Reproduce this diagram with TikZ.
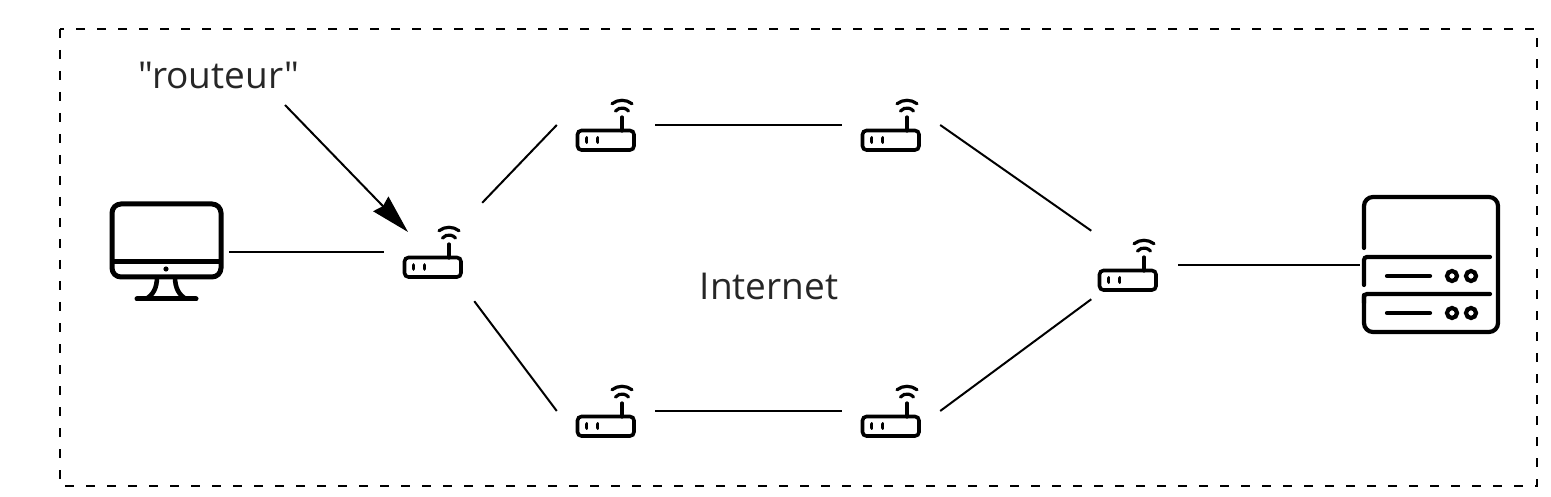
\documentclass[tikz,border=0pt]{standalone}
\usepackage{fontspec}
\setmainfont{Open Sans}[Ligatures=TeXOff]
\usetikzlibrary{arrows.meta}
\tikzset{
  routerbox/.style={rectangle, minimum size=98pt, inner sep=0pt},
  link/.style={line width=2pt},
  pointer/.style={line width=2pt, -{Stealth[length=39pt, width=21pt, inset=3pt]}},
  caption/.style={inner sep=0pt, font=\fontsize{37}{37}\selectfont, text=black!85},
  routericon/.pic={
    \draw[line width=3.6pt, rounded corners=4pt] (-28.5,5.5) rectangle (28,25);
    \draw[line width=3.2pt, line cap=round] (16,-8) -- (16,6);
    \draw[line width=3.8pt, line cap=round] (-19.5,13) -- (-19.5,17);
    \draw[line width=3.8pt, line cap=round] (-8.5,13) -- (-8.5,17);
    \draw[line width=3.2pt, line cap=round] (16,-8.5) ++(220:8.5) arc (220:320:8.5);
    \draw[line width=3.2pt, line cap=round] (16,-8.5) ++(232:16.2) arc (232:308:16.2);
  },
  monitoricon/.pic={
    \draw[line width=5pt, rounded corners=9pt] (-54,-48) rectangle (55,25);
    \draw[line width=5pt] (-54,10) -- (55,10);
    \fill (0,17) circle (2.6pt);
    \draw[line width=5pt, line cap=round] (-29,47) -- (30,47);
    \draw[line width=4.6pt] (-9,25) .. controls (-9,36) and (-13,43) .. (-20,47);
    \draw[line width=4.6pt] (9,25) .. controls (9,36) and (13,43) .. (20,47);
  },
  servericon/.pic={
    \draw[line width=4.2pt, line cap=round, rounded corners=9pt] (-67,-17) -- (-67,-68) -- (67,-68) -- (67,67) -- (-67,67) -- (-67,30);
    \draw[line width=4.2pt, line cap=round, rounded corners=3pt] (-67,20) -- (-67,-8) -- (59,-8);
    \draw[line width=4.2pt, line cap=round, rounded corners=3pt] (-67,38) -- (-67,29) -- (59,29);
    \draw[line width=4.2pt, line cap=round] (-44,11) -- (-1,11);
    \draw[line width=4.2pt, line cap=round] (-44,48) -- (-1,48);
    \foreach \py in {11,48} {
      \draw[line width=4.2pt] (21,\py) circle (5pt);
      \draw[line width=4.2pt] (40,\py) circle (5pt);
    }
  }
}
\begin{document}
\begin{tikzpicture}[x=1pt, y=-1pt]
  \useasboundingbox (0,0) rectangle (1551,497);
  \draw[line width=2.2pt, dash pattern=on 9pt off 12pt] (60,29) rectangle (1537,486);
  \foreach \name/\px/\py in {r1/433/252, r2/606/125, r3/606/411, r4/891/125, r5/891/411} {
    \node[routerbox] (\name) at (\px,\py) {};
    \pic at (\name) {routericon};
  }
  \node[circle, minimum size=100pt, inner sep=0pt] (r6) at (1128,265) {};
  \pic at (r6) {routericon};
  \node[minimum width=126pt, minimum height=100pt, inner sep=0pt] (monitor) at (166,252) {};
  \pic at (monitor) {monitoricon};
  \node[minimum width=142pt, minimum height=138pt, inner sep=0pt] (server) at (1431,265) {};
  \pic at (server) {servericon};
  \node[caption] (routeur) at (219,75) {"routeur"};
  \node[caption] (internet) at (769,286) {Internet};
  \coordinate (pointerstart) at (285,105);
  \coordinate (pointertip) at (408,232);
  \draw[link] (monitor.east) -- (r1.west);
  \draw[link] (r1.north east) -- (r2.west);
  \draw[link] (r1.-50) -- (r3.west);
  \draw[link] (r2.east) -- (r4.west);
  \draw[link] (r3.east) -- (r5.west);
  \draw[link] (r4.east) -- (r6.137);
  \draw[link] (r5.east) -- (r6.223);
  \draw[link] (r6.east) -- (server.west);
  \draw[pointer] (pointerstart) -- (pointertip);
\end{tikzpicture}
\end{document}
